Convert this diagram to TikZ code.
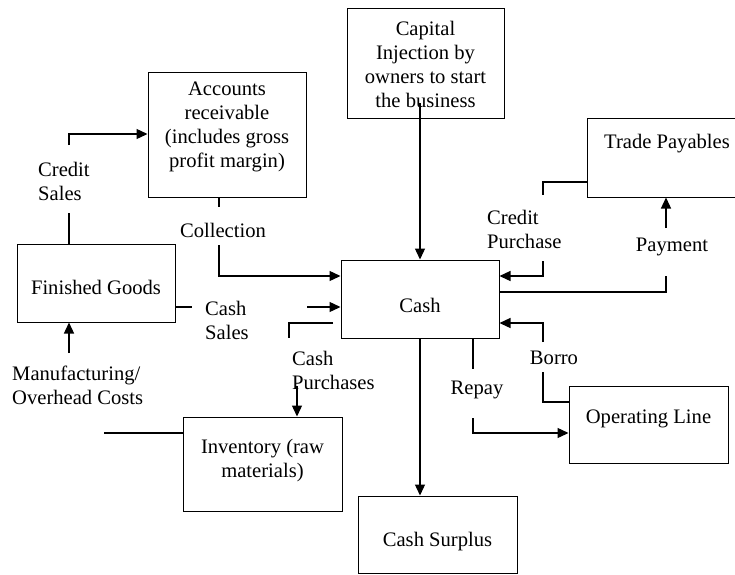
\documentclass[tikz,border=0pt]{standalone}
\usepackage{fontspec}
\setmainfont{Liberation Serif}
\usetikzlibrary{arrows.meta}
\begin{document}
\begin{tikzpicture}[x=1pt,y=-1pt,
  box/.style={draw,line width=1pt,rectangle,inner sep=0pt},
  txt/.style={inner sep=0pt,font=\fontsize{20.6}{24}\selectfont,align=center},
  ltxt/.style={inner sep=0pt,font=\fontsize{20.6}{24}\selectfont,align=left,anchor=west},
  conn/.style={line width=1.3pt},
  arr/.style={line width=1.3pt,-{Triangle[length=11pt,width=10pt]}}]
\useasboundingbox (0,0) rectangle (735,574);
% boxes
\node[box,minimum width=157pt,minimum height=110pt] (cap) at (425.5,63) {};
\node[box,minimum width=158pt,minimum height=125pt] (ar) at (227,134.5) {};
\node[box,minimum width=160pt,minimum height=79pt] (tp) at (667,157.5) {};
\node[box,minimum width=158pt,minimum height=78pt] (cash) at (420,299) {};
\node[box,minimum width=158pt,minimum height=78pt] (fg) at (96,283) {};
\node[box,minimum width=159pt,minimum height=94pt] (inv) at (262.5,464) {};
\node[box,minimum width=159pt,minimum height=77pt] (ol) at (648.5,424.5) {};
\node[box,minimum width=159pt,minimum height=77pt] (surp) at (437.5,534.5) {};
% box texts
\node[txt] (capT) at (425.5,64) {Capital\\Injection by\\owners to start\\the business};
\node[txt] (arT) at (227,127) {Accounts\\receivable\\(includes gross\\profit margin)};
\node[txt] (tpT) at (667,144) {Trade Payables};
\node[txt] (cashT) at (420,305) {Cash};
\node[txt] (fgT) at (96,287) {Finished Goods};
\node[txt] (invT) at (262.5,461) {Inventory (raw\\materials)};
\node[txt] (olT) at (648.5,419) {Operating Line};
\node[txt] (surpT) at (437.5,542) {Cash Surplus};
% labels
\node[ltxt] (lcs) at (38,181) {Credit\\Sales};
\node[txt] (lcol) at (223,230) {Collection};
\node[ltxt] (lcsales) at (205,320) {Cash\\Sales};
\node[ltxt] (lcp) at (292,370) {Cash\\Purchases};
\node[ltxt] (lmf) at (12,385) {Manufacturing/\\Overhead Costs};
\node[ltxt] (lcpu) at (487,229) {Credit\\Purchase};
\node[txt] (lpay) at (672,247) {Payment};
\node[txt] (lbor) at (554,358) {Borro};
\node[txt] (lrep) at (477,390) {Repay};
% capital injection
\coordinate (capin) at (420,103);
\draw[arr] (capin) -- (capin |- cash.north);
% credit sales
\coordinate (cs1) at (69,213);
\draw[conn] (fg.north -| cs1) -- (cs1);
\coordinate (cs2) at (69,145);
\coordinate (cs3) at (69,134);
\draw[arr] (cs2) -- (cs3) -- (cs3 -| ar.west);
% collection
\coordinate (co1) at (219,207);
\draw[conn] (ar.south -| co1) -- (co1);
\coordinate (co2) at (219,245);
\coordinate (co3) at (219,276);
\draw[arr] (co2) -- (co3) -- (co3 -| cash.west);
% cash sales
\coordinate (csl) at (192,307);
\draw[conn] (csl -| fg.east) -- (csl);
\coordinate (csa) at (307,307);
\draw[arr] (csa) -- (csa -| cash.west);
% cash purchases
\coordinate (cp1) at (333,323);
\coordinate (cp2) at (289,338);
\draw[conn] (cp1) -| (cp2);
\coordinate (cp3) at (297,386);
\draw[arr] (cp3) -- (cp3 |- inv.north);
% inventory left line
\coordinate (il) at (104,433);
\draw[conn] (il) -- (il -| inv.west);
% manufacturing
\coordinate (mf) at (69,353);
\draw[arr] (mf) -- (mf |- fg.south);
% credit purchase
\coordinate (cpa) at (543,195);
\coordinate (cpb) at (543,182);
\draw[conn] (cpb -| tp.west) -- (cpb) -- (cpa);
\coordinate (cpc) at (543,261);
\coordinate (cpd) at (543,276);
\draw[arr] (cpc) -- (cpd) -- (cpd -| cash.east);
% payment
\coordinate (pa) at (666,228);
\draw[arr] (pa) -- (pa |- tp.south);
\coordinate (pb) at (666,276);
\coordinate (pc) at (666,292);
\draw[conn] (pc -| cash.east) -- (pc) -- (pb);
% borrow
\coordinate (ba) at (543,402);
\coordinate (bb) at (543,372);
\draw[conn] (ba -| ol.west) -- (ba) -- (bb);
\coordinate (bc) at (543,342);
\coordinate (bd) at (543,323);
\draw[arr] (bc) -- (bd) -- (bd -| cash.east);
% repay
\coordinate (ra) at (473,369);
\draw[conn] (ra |- cash.south) -- (ra);
\coordinate (rb) at (473,418);
\coordinate (rc) at (473,433);
\draw[arr] (rb) -- (rc) -- (rc -| ol.west);
% surplus
\draw[arr] (cash.south) -- (cash.south |- surp.north);
\end{tikzpicture}
\end{document}
